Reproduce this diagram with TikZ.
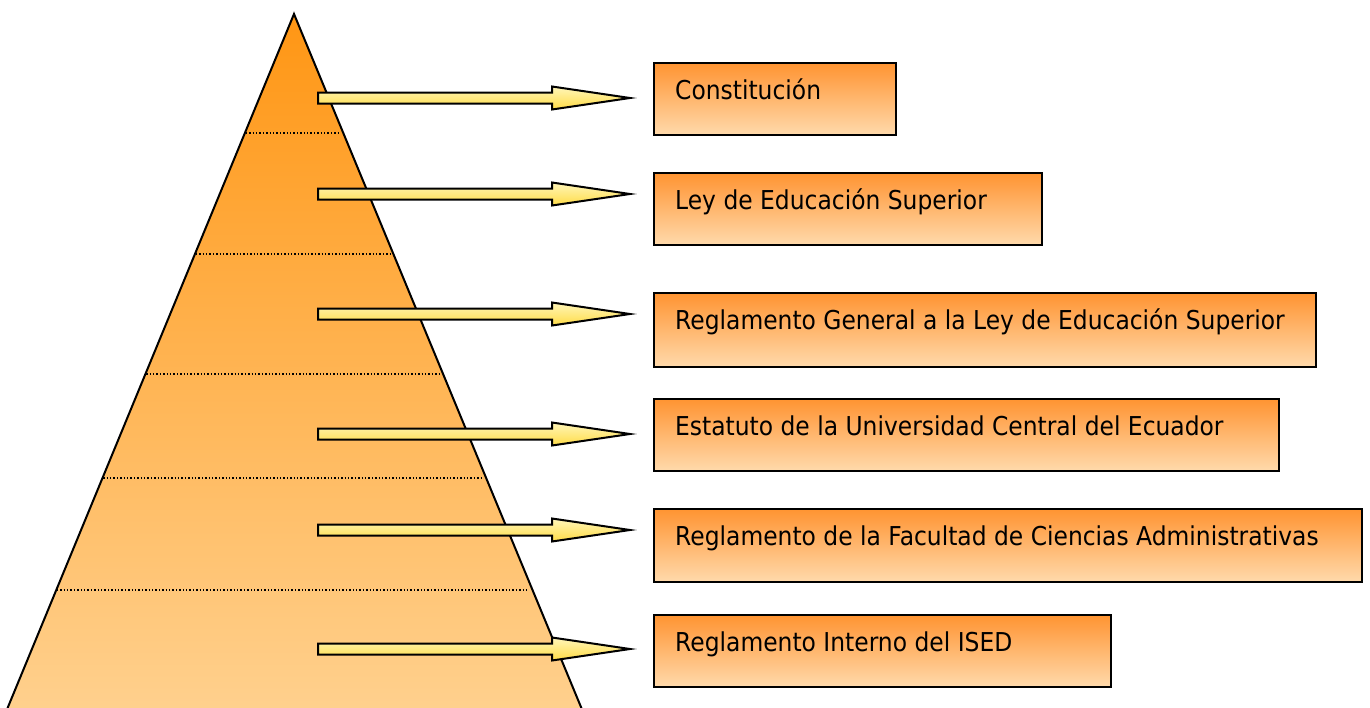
\documentclass[tikz,border=0pt]{standalone}
\usepackage{fontspec}
\setmainfont{DejaVu Sans}[FakeStretch=0.9]
\usetikzlibrary{calc}
\definecolor{pyrtop}{RGB}{255,150,20}
\definecolor{pyrbot}{RGB}{255,210,145}
\definecolor{boxtop}{RGB}{255,148,50}
\definecolor{boxbot}{RGB}{255,218,172}
\definecolor{arrtop}{RGB}{255,246,185}
\definecolor{arrbot}{RGB}{255,220,70}
\tikzset{
  levelbox/.style={draw=black, line width=2.4pt, top color=boxtop, bottom color=boxbot,
    minimum height=72pt, inner sep=0pt, anchor=north west},
  leveltext/.style={anchor=base west, inner sep=0pt, font=\fontsize{26}{30}\selectfont, text=black},
  blockarrow/.style={draw=black, line width=2pt, top color=arrtop, bottom color=arrbot, line join=miter},
  levelline/.style={dotted, line width=1.4pt, black}
}
\begin{document}
\begin{tikzpicture}[x=1pt,y=-1pt]
\useasboundingbox (0,0) rectangle (1370,707);
% pyramid
\begin{scope}
  \clip (0,0) rectangle (1370,707);
  \coordinate (apex) at (294,14);
  \coordinate (bl) at (-1.5,730);
  \coordinate (br) at (590.5,730);
  \path[top color=pyrtop, bottom color=pyrbot, draw=black, line width=2pt, line join=miter]
    (apex) -- (br) -- (bl) -- cycle;
\end{scope}
% level separators
\foreach \yy in {133,254,374,478,590}{
  \pgfmathsetmacro\hw{0.4134*(\yy-14)}
  \draw[levelline] ({294-\hw+1},\yy) -- ({294+\hw-3},\yy);
}
% block arrows
\foreach \i/\yy in {1/98,2/194,3/314,4/434,5/530,6/649}{
  \coordinate (s\i) at (318,\yy);
  \coordinate (t\i) at (630,\yy);
  \path[blockarrow] ($(s\i)+(0,-5.5)$) -- ($(t\i)+(-78,-5.5)$) -- ($(t\i)+(-78,-11.5)$) -- (t\i)
     -- ($(t\i)+(-78,11.5)$) -- ($(t\i)+(-78,5.5)$) -- ($(s\i)+(0,5.5)$) -- cycle;
}
% boxes
\node[levelbox, minimum width=242pt] (b1) at (653,62) {};
\node[levelbox, minimum width=388pt] (b2) at (653,172) {};
\node[levelbox, minimum width=662pt, minimum height=74pt] (b3) at (653,292) {};
\node[levelbox, minimum width=625pt] (b4) at (653,398) {};
\node[levelbox, minimum width=708pt, minimum height=73pt] (b5) at (653,508) {};
\node[levelbox, minimum width=457pt] (b6) at (653,614) {};
% texts
\node[leveltext] (l1) at ($(b1.north west)+(22,37.5)$) {Constitución};
\node[leveltext] (l2) at ($(b2.north west)+(22,37.5)$) {Ley de Educación Superior};
\node[leveltext] (l3) at ($(b3.north west)+(22,37.5)$) {Reglamento General a la Ley de Educación Superior};
\node[leveltext] (l4) at ($(b4.north west)+(22,37.5)$) {Estatuto de la Universidad Central del Ecuador};
\node[leveltext] (l5) at ($(b5.north west)+(22,37.5)$) {Reglamento de la Facultad de Ciencias Administrativas};
\node[leveltext] (l6) at ($(b6.north west)+(22,37.5)$) {Reglamento Interno del ISED};
\end{tikzpicture}
\end{document}
